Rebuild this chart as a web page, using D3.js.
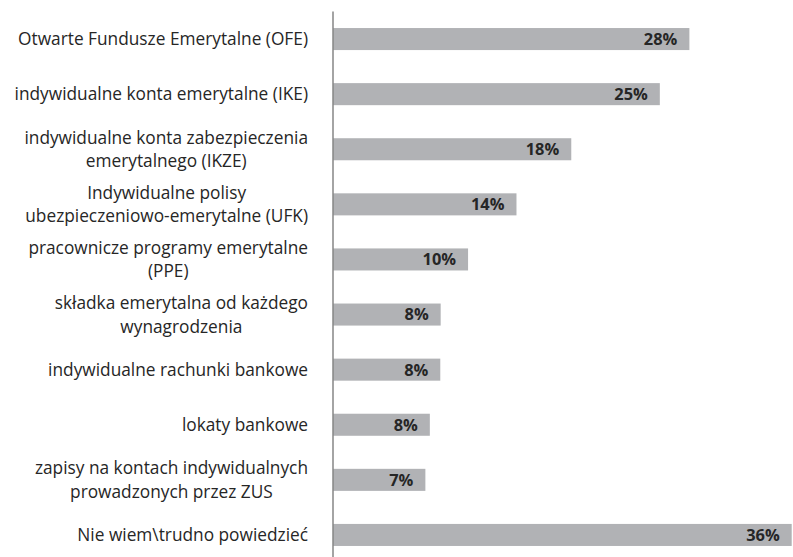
<html>
<head>
<meta charset="utf-8">
<script src="https://cdn.jsdelivr.net/npm/d3@7/dist/d3.min.js"></script>
<style>
  body { margin: 0; background: #fff; }
  svg { display: block; }
  .cat { font-family: "Open Sans", sans-serif; font-size: 17.3px; fill: #262626; }
  .val { font-family: "Open Sans", sans-serif; font-size: 16.4px; font-weight: bold; fill: #262626; }
</style>
</head>
<body>
<svg id="chart"></svg>
<script>
var width = 793;
var height = 557;

// categories (line breaks as in the original chart)
var categories = [
  "Otwarte Fundusze Emerytalne (OFE)",
  "indywidualne konta emerytalne (IKE)",
  "indywidualne konta zabezpieczenia\nemerytalnego (IKZE)",
  "Indywidualne polisy\nubezpieczeniowo-emerytalne (UFK)",
  "pracownicze programy emerytalne\n(PPE)",
  "składka emerytalna od każdego\nwynagrodzenia",
  "indywidualne rachunki bankowe",
  "lokaty bankowe",
  "zapisy na kontach indywidualnych\nprowadzonych przez ZUS",
  "Nie wiem\\trudno powiedzieć"
];
// bar lengths (percent)
var values = [27.97, 25.65, 18.7, 14.4, 10.6, 8.45, 8.42, 7.6, 7.25, 36.0];
// value labels as printed
var valueLabels = ["28%", "25%", "18%", "14%", "10%", "8%", "8%", "8%", "7%", "36%"];

var margin = {top: 11.5, left: 333, right: 1};
var labelRight = 308;

var svg = d3.select("#chart")
  .attr("width", width)
  .attr("height", height);

var x = d3.scaleLinear()
  .domain([0, 36])
  .range([margin.left, margin.left + 458.7]);

var y = d3.scaleBand()
  .domain(d3.range(categories.length))
  .range([margin.top, margin.top + 55.1 * categories.length])
  .paddingInner(0.6)
  .paddingOuter(0.3);

svg.append("g").selectAll("rect")
  .data(values)
  .join("rect")
    .attr("x", x(0))
    .attr("y", function(d, i) { return y(i); })
    .attr("width", function(d) { return x(d) - x(0); })
    .attr("height", y.bandwidth())
    .attr("fill", "#b1b2b5");

svg.append("g").selectAll("text")
  .data(values)
  .join("text")
    .attr("class", "val")
    .attr("x", function(d) { return Math.min(x(d) - 12, width - 8); })
    .attr("y", function(d, i) { return y(i) + y.bandwidth() / 2; })
    .attr("dy", "0.36em")
    .attr("text-anchor", "end")
    .text(function(d, i) { return valueLabels[i]; });

// category labels: block right-aligned, lines centred on the widest one (like Excel)
var lineHeight = 23.5;
svg.append("g").selectAll("text")
  .data(categories)
  .join("text")
    .attr("class", "cat")
    .attr("text-anchor", "middle")
    .each(function(d, i) {
      var lines = d.split("\n");
      var cy = y(i) + y.bandwidth() / 2 - (lines.length - 1) * lineHeight / 2;
      var t = d3.select(this);
      var spans = lines.map(function(line, k) {
        return t.append("tspan")
          .attr("y", cy + k * lineHeight)
          .attr("dy", "0.36em")
          .text(line);
      });
      var widest = d3.max(spans, function(s) { return s.node().getComputedTextLength(); });
      spans.forEach(function(s) { s.attr("x", labelRight - widest / 2); });
    });

// vertical axis line
svg.append("line")
  .attr("x1", x(0)).attr("x2", x(0))
  .attr("y1", margin.top).attr("y2", height)
  .attr("stroke", "#868686")
  .attr("stroke-width", 1.5);
</script>
</body>
</html>
